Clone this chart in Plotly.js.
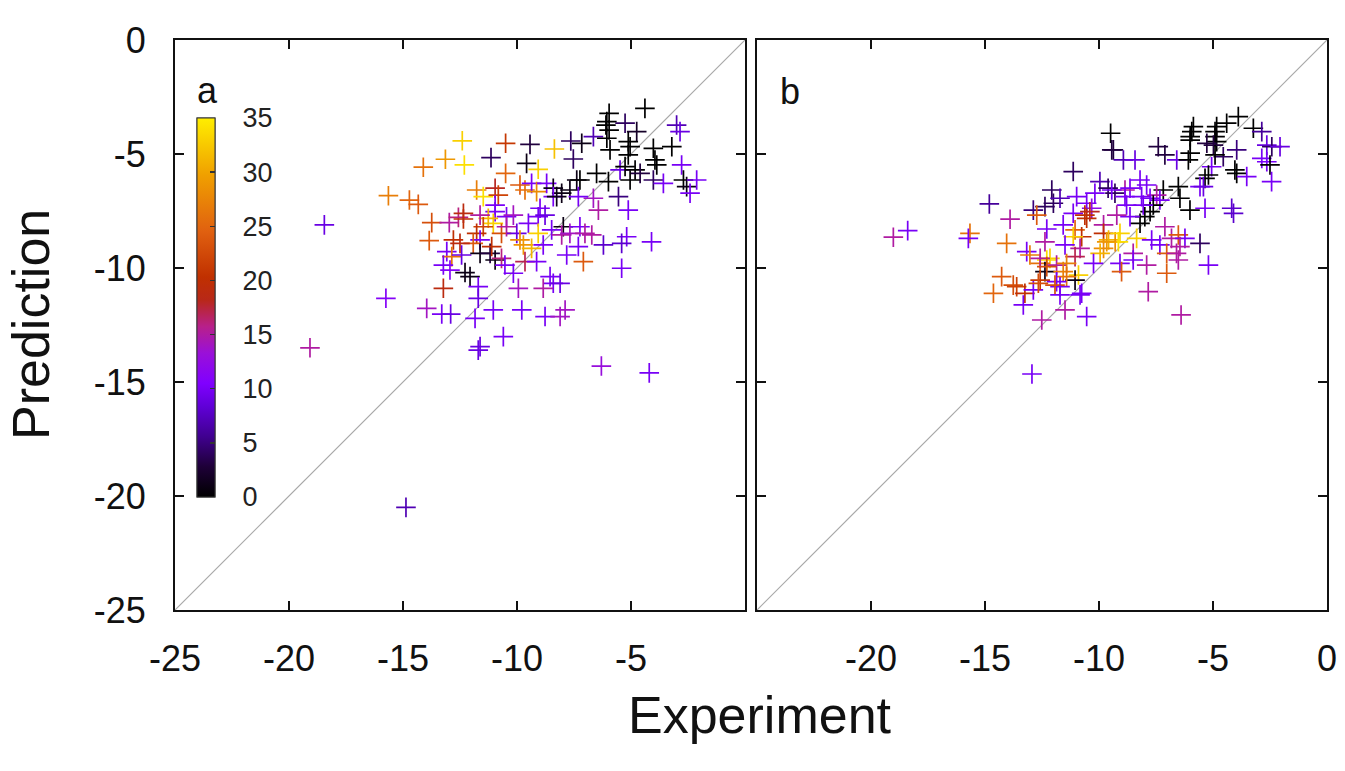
<!DOCTYPE html>
<html><head><meta charset="utf-8">
<script src="https://cdn.plot.ly/plotly-3.0.1.min.js"></script>
<style>html,body{margin:0;padding:0;background:#fff}#chart{width:1345px;height:771px}</style>
</head><body><div id="chart"></div>
<script>
// Panel a: experiment (x), prediction (y), colour value (c)
const xa = [-18.45,-19.08,-14.87,-15.75,-6.3,-4.2,-12.4,-13.14,-12.31,-14.11,-15.64,-14.72,-14.33,-13.74,-12.97,-12.57,-12.35,-13.85,-12.79,-13.08,-12.86,-12.43,-13.23,-12.94,-12.28,-13.23,-13.96,-13.3,-12.91,-10.5,-9.43,-8.36,-7.64,-11.14,-9.58,-9.07,-7.53,-10.5,-11.77,-11.48,-10.96,-10.82,-10.96,-10.96,-9.87,-9.65,-9.36,-9.14,-8.7,-8.41,-8.04,-7.68,-7.38,-8.41,-8.99,-9.07,-8.77,-10.46,-10.16,-11.04,-11.26,-11.62,-11.48,-12.35,-11.77,-11.62,-11.92,-12.5,-10.68,-10.46,-10.01,-9.5,-9.07,-9.87,-9.72,-9.36,-8.85,-8.48,-7.97,-8.04,-7.68,-7.82,-12.06,-11.62,-11.18,-10.96,-11.11,-10.68,-10.53,-10.16,-9.65,-9.14,-11.7,-11.7,-9.94,-8.55,-8.41,-8.11,-8.85,-11.84,-11.04,-9.79,-8.77,-8.11,-7.89,-10.6,-11.62,-11.7,-4.39,-5.96,-6.06,-6.1,-5.96,-5.26,-4.75,-3.0,-2.85,-7.16,-6.65,-6.06,-5.92,-5.12,-5.04,-5.12,-4.02,-3.21,-3.95,-3.87,-2.78,-5.48,-5.26,-4.82,-4.6,-6.51,-7.24,-5.99,-5.04,-4.02,-3.58,-2.7,-2.56,-2.12,-2.41,-5.55,-5.12,-6.65,-6.43,-7.31,-8.26,-7.24,-7.02,-6.72,-5.19,-5.41,-6.21,-4.1,-7.31,-7.09,-5.41];
const ya = [-8.11,-13.5,-20.5,-11.33,-14.3,-14.6,-4.42,-5.23,-5.48,-5.58,-6.83,-7.02,-7.21,-8.01,-8.01,-7.78,-7.85,-8.8,-8.77,-9.28,-9.5,-9.43,-9.87,-10.09,-10.2,-10.89,-11.77,-12.02,-12.02,-4.53,-4.58,-4.78,-4.43,-5.16,-5.41,-5.67,-5.22,-5.85,-6.58,-6.87,-6.5,-6.8,-7.24,-7.53,-6.36,-6.58,-6.29,-6.65,-6.29,-6.5,-6.72,-6.58,-6.14,-6.87,-7.38,-7.75,-7.68,-7.75,-7.68,-8.04,-7.82,-7.68,-8.19,-7.6,-8.48,-8.77,-8.92,-8.92,-8.48,-8.19,-8.48,-8.04,-8.48,-8.77,-8.99,-9.14,-8.99,-8.33,-8.19,-8.55,-8.48,-9.43,-10.38,-9.36,-9.36,-9.65,-9.06,-9.58,-9.87,-10.23,-9.72,-9.72,-10.82,-11.33,-10.89,-10.38,-10.67,-10.67,-10.89,-12.21,-11.84,-11.84,-12.13,-12.13,-11.84,-13.01,-13.45,-13.6,-3.0,-3.22,-3.58,-3.73,-3.95,-3.65,-4.02,-3.73,-4.02,-4.53,-4.24,-4.31,-4.82,-4.46,-4.68,-5.04,-4.75,-4.68,-5.26,-5.48,-5.48,-5.7,-5.55,-5.7,-5.85,-5.85,-6.14,-6.21,-6.14,-6.14,-6.29,-6.14,-6.43,-6.14,-6.72,-6.87,-7.46,-6.94,-7.46,-6.87,-6.87,-8.19,-8.48,-8.55,-8.63,-8.92,-8.99,-8.85,-9.06,-9.72,-10.01];
const ca = [9,15,7,11,13,10,33,29,34,26,27,25,24,23,15,16,20,24,20,10,26,9,10,11,1,19,14,10,9,21,3,32,4,4,1,33,4,25,27,34,18,22,10,10,24,26,10,28,10,1,1,1,1,10,10,10,9,10,14,33,31,15,22,19,20,10,24,19,23,15,9,10,33,28,29,31,10,10,1,15,14,10,1,1,3,1,20,16,10,10,17,10,10,9,14,10,10,9,15,10,10,10,10,14,14,10,9,9,0,0,0,0,0,4,2,7,9,1,7,0,0,0,0,0,0,0,0,0,10,9,0,0,3,0,0,0,0,4,10,0,1,10,10,5,10,14,15,10,1,10,15,15,10,8,8,10,10,24,10];

// Panel b
const xb = [-12.07,-14.81,-12.88,-12.37,-12.0,-12.73,-13.9,-12.29,-19.02,-18.39,-15.66,-15.73,-14.05,-12.37,-13.17,-13.03,-12.29,-12.15,-12.58,-12.37,-14.27,-13.76,-13.61,-14.63,-13.25,-12.88,-12.58,-13.32,-12.51,-9.37,-11.13,-9.96,-9.6,-9.3,-10.18,-10.98,-11.71,-10.54,-10.32,-11.13,-10.54,-11.57,-11.05,-10.76,-11.13,-9.8,-9.8,-9.58,-9.29,-9.8,-11.49,-10.83,-11.05,-12.58,-11.86,-11.42,-12.29,-11.57,-10.9,-11.05,-11.42,-11.86,-11.71,-11.93,-12.66,-11.71,-10.83,-11.49,-10.54,-3.89,-4.4,-4.84,-4.91,-4.91,-4.84,-5.86,-5.93,-6.0,-6.0,-9.49,-9.44,-8.93,-8.42,-7.4,-7.11,-6.59,-6.08,-6.0,-5.27,-4.98,-4.55,-3.96,-4.91,-5.06,-4.04,-3.96,-3.52,-3.23,-2.86,-2.64,-2.42,-2.06,-2.86,-2.64,-2.5,-2.43,-5.2,-5.35,-5.57,-5.42,-6.52,-6.45,-7.18,-7.47,-7.33,-7.76,-7.62,-7.76,-6.01,-5.35,-4.18,-4.1,-8.2,-7.91,-8.64,-8.86,-9.44,-8.86,-8.79,-8.13,-8.06,-7.99,-8.2,-8.64,-9.22,-10.4,-10.62,-7.11,-9.08,-9.15,-9.66,-9.95,-8.35,-8.5,-7.69,-7.33,-6.82,-6.52,-6.23,-7.03,-6.6,-6.45,-6.52,-5.57,-5.2,-7.91,-8.5,-9.08,-9.01,-10.24,-7.03,-7.84,-10.76,-6.4,-12.94];
const yb = [-6.58,-7.19,-7.46,-7.31,-7.16,-7.68,-7.86,-8.29,-8.65,-8.36,-8.48,-8.7,-8.92,-8.85,-9.28,-9.43,-9.65,-9.58,-9.8,-10.16,-10.38,-10.75,-10.82,-11.11,-11.11,-10.96,-10.53,-11.62,-12.28,-4.82,-5.77,-6.21,-6.5,-6.72,-6.72,-6.87,-6.94,-7.16,-7.38,-7.6,-7.82,-8.11,-8.33,-8.63,-8.63,-8.11,-8.48,-8.77,-8.85,-9.14,-8.99,-9.14,-9.5,-9.58,-9.87,-9.8,-9.94,-10.16,-10.31,-10.53,-10.38,-10.6,-10.82,-10.75,-10.67,-11.18,-11.18,-11.84,-12.13,-3.36,-3.65,-3.8,-4.02,-4.24,-4.46,-3.8,-4.02,-4.24,-4.39,-4.09,-4.82,-5.26,-5.26,-4.68,-5.04,-5.26,-5.26,-4.96,-4.53,-4.61,-5.12,-4.82,-5.04,-5.56,-5.7,-5.85,-5.99,-3.87,-4.02,-4.61,-4.68,-4.68,-5.19,-5.34,-5.48,-6.21,-5.92,-6.07,-6.43,-6.43,-6.43,-6.94,-6.58,-6.8,-7.02,-6.94,-7.24,-7.53,-7.46,-7.38,-7.38,-7.6,-6.14,-6.36,-6.5,-6.58,-6.58,-6.87,-7.24,-6.87,-7.24,-7.75,-8.04,-7.75,-7.68,-7.53,-7.68,-8.19,-8.48,-8.85,-8.85,-9.36,-8.7,-9.36,-8.77,-8.99,-8.7,-8.55,-8.7,-9.36,-9.36,-9.06,-9.65,-8.92,-9.87,-9.87,-9.65,-9.8,-10.16,-9.8,-10.23,-11.04,-11.11,-12.06,-14.65];
const cb = [4,6,5,4,4,24,15,10,15,10,26,10,26,15,10,27,34,33,26,1,24,23,22,25,20,10,21,10,15,3,4,7,4,4,10,10,7,10,12,10,20,10,25,20,33,15,20,31,28,28,10,15,17,15,15,27,23,27,33,1,26,10,10,23,23,10,10,15,10,0,0,0,0,0,0,0,0,0,0,0,3,7,9,3,3,9,0,0,3,3,4,5,0,10,0,0,10,0,6,9,4,9,10,10,0,10,0,0,10,9,0,0,0,15,10,10,0,0,0,10,8,8,10,10,10,15,10,10,10,10,10,0,0,10,15,18,20,15,33,34,29,31,33,15,10,10,15,24,10,24,15,15,15,4,10,15,10,10,24,10,24,15,10,15,10];

const colorTicks = [0,5,10,15,20,25,30,35];
const xTicksA = [-25,-20,-15,-10,-5];
const xTickTextA = ['-25','-20','-15','-10','-5'];
const xTicksB = [-20,-15,-10,-5,0];
const xTickTextB = ['-20','-15','-10','-5','0'];
const yTicks = [-25,-20,-15,-10,-5,0];
const yTickText = ['-25','-20','-15','-10','-5','0'];

const cscale = [
  [0.0,'#000000'],[0.08,'#1e0038'],[0.16,'#400090'],[0.24,'#6000d8'],[0.30,'#8000ff'],
  [0.38,'#9a10d8'],[0.45,'#b8208a'],[0.52,'#b82818'],[0.58,'#c03000'],[0.70,'#e06010'],
  [0.85,'#f0a000'],[1.0,'#ffee00']
];

const FONT = 'Liberation Sans, Arial, Helvetica, sans-serif';
const cbPos = {x: 0.0191, xanchor: 'left', xref: 'paper', y: 0.5307, yanchor: 'middle', yref: 'paper',
  len: 0.665, lenmode: 'fraction', thickness: 18, thicknessmode: 'pixels',
  outlinewidth: 1, outlinecolor: '#333', bgcolor: 'rgba(0,0,0,0)', borderwidth: 0, xpad: 0, ypad: 0,
  tickmode: 'array', tickvals: colorTicks};

const traceA = {
  x: xa, y: ya, type: 'scatter', mode: 'markers', xaxis: 'x', yaxis: 'y',
  marker: {
    symbol: 'cross-thin-open', size: 14, color: ca, cmin: 0, cmax: 35, colorscale: cscale,
    line: {width: 1.7},
    showscale: true,
    colorbar: Object.assign({}, cbPos, {ticks: 'outside', ticklen: 22, tickcolor: 'rgba(0,0,0,0)',
      tickfont: {family: FONT, size: 27, color: '#222'}})
  },
  showlegend: false, hoverinfo: 'x+y'
};
const traceB = {
  x: xb, y: yb, type: 'scatter', mode: 'markers', xaxis: 'x2', yaxis: 'y2',
  marker: {symbol: 'cross-thin-open', size: 14, color: cb, cmin: 0, cmax: 35, colorscale: cscale, line: {width: 1.7},
    showscale: true,
    colorbar: Object.assign({}, cbPos, {ticks: 'inside', ticklen: 5, tickwidth: 1.5, tickcolor: '#333', showticklabels: false})},
  showlegend: false, hoverinfo: 'x+y'
};

const axBase = {
  range: [-25, 0], showgrid: false, zeroline: false, showline: true, linecolor: '#111', linewidth: 2,
  mirror: 'allticks', ticks: 'inside', ticklen: 9, tickwidth: 2, tickcolor: '#111',
  tickfont: {family: FONT, size: 36, color: '#111'}, fixedrange: true, tickmode: 'array'
};

const layout = {
  width: 1345, height: 771,
  margin: {l: 175, r: 18, t: 40, b: 161},
  paper_bgcolor: '#fff', plot_bgcolor: '#fff',
  xaxis: Object.assign({}, axBase, {domain: [0, 0.4948], anchor: 'y', tickvals: xTicksA, ticktext: xTickTextA, ticklabelstandoff: 16}),
  yaxis: Object.assign({}, axBase, {domain: [0, 1], anchor: 'x', tickvals: yTicks, ticktext: yTickText, ticklabelstandoff: 20}),
  xaxis2: Object.assign({}, axBase, {domain: [0.5052, 1], anchor: 'y2', tickvals: xTicksB, ticktext: xTickTextB, ticklabelstandoff: 16}),
  yaxis2: Object.assign({}, axBase, {domain: [0, 1], anchor: 'x2', tickvals: yTicks, showticklabels: false}),
  shapes: [
    {type: 'line', xref: 'x', yref: 'y', x0: -25, y0: -25, x1: 0, y1: 0, line: {color: '#a8a8a8', width: 1.2}, layer: 'below'},
    {type: 'line', xref: 'x2', yref: 'y2', x0: -25, y0: -25, x1: 0, y1: 0, line: {color: '#a8a8a8', width: 1.2}, layer: 'below'}
  ],
  annotations: [
    {text: 'Prediction', xref: 'paper', yref: 'paper', x: -0.125, y: 0.5, textangle: -90, showarrow: false, xanchor: 'center', yanchor: 'middle', font: {family: FONT, size: 52, color: '#111'}},
    {text: 'Experiment', xref: 'paper', yref: 'paper', x: 0.508, y: -0.184, showarrow: false, xanchor: 'center', yanchor: 'middle', font: {family: FONT, size: 52, color: '#111'}},
    {text: 'a', xref: 'paper', yref: 'paper', x: 0.0278, y: 0.912, showarrow: false, xanchor: 'center', yanchor: 'middle', font: {family: FONT, size: 36, color: '#111'}},
    {text: 'b', xref: 'paper', yref: 'paper', x: 0.534, y: 0.909, showarrow: false, xanchor: 'center', yanchor: 'middle', font: {family: FONT, size: 36, color: '#111'}}
  ]
};

Plotly.newPlot('chart', [traceA, traceB], layout, {displayModeBar: false, staticPlot: true});
</script>
</body></html>
